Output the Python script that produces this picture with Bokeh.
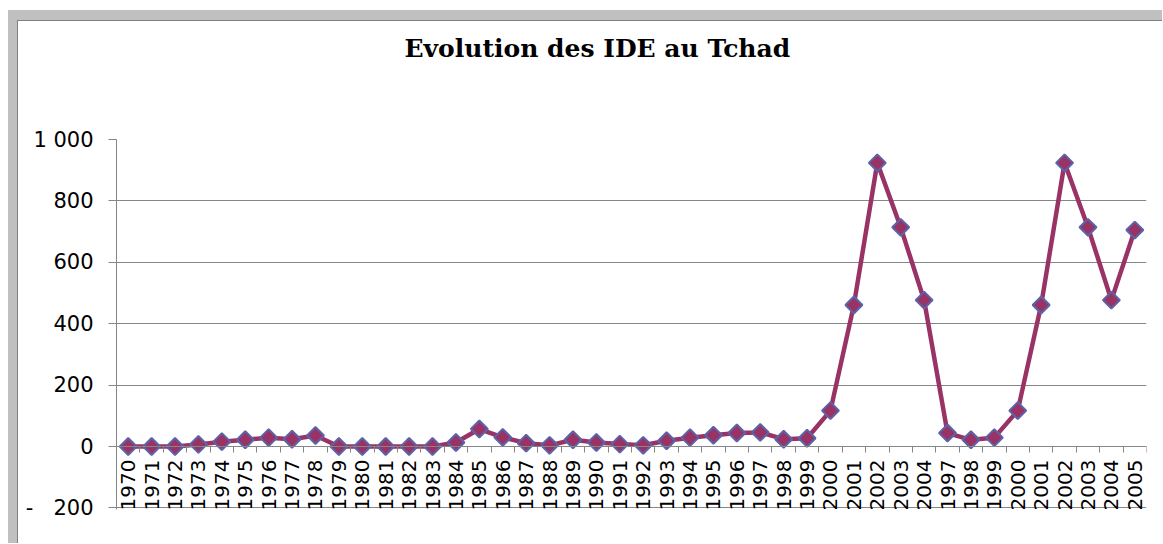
import math
from bokeh.plotting import figure
from bokeh.models import Range1d, FixedTicker, Title
from bokeh.embed import file_html
from bokeh.resources import INLINE

# ---- data ----
x_labels = ["1970", "1971", "1972", "1973", "1974", "1975", "1976", "1977", "1978", "1979",
            "1980", "1981", "1982", "1983", "1984", "1985", "1986", "1987", "1988", "1989",
            "1990", "1991", "1992", "1993", "1994", "1995", "1996", "1997", "1998", "1999",
            "2000", "2001", "2002", "2003", "2004",
            "1997", "1998", "1999", "2000", "2001", "2002", "2003", "2004", "2005"]
ide_values = [0, 0, 0, 7, 16, 22, 29, 24, 36, 0,
              0, 0, 0, 0, 13, 57, 30, 11, 4, 22,
              13, 8, 4, 19, 29, 37, 44, 46, 24, 27,
              117, 461, 924, 714, 477,
              44, 22, 29, 117, 461, 924, 714, 477, 705]
y_ticks = [-200, 0, 200, 400, 600, 800, 1000]
y_tick_labels = ["-\u00a0\u00a0\u00a0200", "0", "200", "400", "600", "800", "1 000"]
title_text = "Evolution des IDE au Tchad"

xs = list(range(len(x_labels)))

# canvas placed at page (18, 21) by the CSS frame below
W, H = 1145, 523
FL, FT, FR, FB = 98, 118, 1128, 488  # frame edges in canvas px

p = figure(width=W, height=H, output_backend="svg", toolbar_location=None,
           x_range=Range1d(-0.5, len(x_labels) - 0.5), y_range=Range1d(-205, 1000),
           min_border_left=FL, min_border_right=W - FR,
           min_border_top=FT, min_border_bottom=H - FB,
           styles={"margin-top": "20px", "margin-left": "17px",
                   "border-top": "1px solid #808080", "border-left": "1px solid #808080",
                   "box-shadow": "-9px -10px 0 0 #c0c0c0, 0 -10px 0 0 #c0c0c0, -9px 0 0 0 #c0c0c0"})
p.outline_line_color = None
p.background_fill_color = "white"
p.border_fill_color = "white"

# spacer (closest to the frame), then the title above it
p.add_layout(Title(text=" ", standoff=62, text_font_size="1px"), "above")
p.add_layout(Title(text=title_text, align="left", offset=288, vertical_align="top",
                   standoff=20, text_font="DejaVu Serif", text_font_style="bold",
                   text_font_size="25px", text_color="black"), "above")

# x axis at y = 0
xa = p.xaxis[0]
xa.fixed_location = 0
xa.ticker = FixedTicker(ticks=xs, minor_ticks=[i - 0.5 for i in range(len(x_labels) + 1)])
xa.major_label_overrides = {i: lab for i, lab in enumerate(x_labels)}
xa.major_label_orientation = math.pi / 2
xa.major_tick_out = 0
xa.major_tick_in = 0
xa.minor_tick_out = 6
xa.minor_tick_in = 0
xa.minor_tick_line_color = "#868686"
xa.axis_line_color = "#868686"
xa.major_label_standoff = 7
xa.major_label_text_font = "DejaVu Sans"
xa.major_label_text_font_size = "20px"
xa.major_label_text_color = "black"

ya = p.yaxis[0]
ya.ticker = FixedTicker(ticks=y_ticks)
ya.major_label_overrides = {t: l for t, l in zip(y_ticks, y_tick_labels)}
ya.major_tick_out = 8
ya.major_tick_in = 0
ya.minor_tick_out = 0
ya.minor_tick_in = 0
ya.major_tick_line_color = "#868686"
ya.axis_line_color = "#868686"
ya.major_label_standoff = 15
ya.major_label_text_font = "DejaVu Sans"
ya.major_label_text_font_size = "21px"
ya.major_label_text_color = "black"

p.xgrid.visible = False
p.ygrid.ticker = FixedTicker(ticks=y_ticks)
p.ygrid.grid_line_color = "#868686"
p.ygrid.grid_line_width = 1

# series
p.line(xs, ide_values, line_color="#993366", line_width=4.5)
p.scatter(xs, ide_values, marker="square", angle=math.pi / 4, size=12,
          fill_color="#993366", line_color="#5b64a8", line_width=2)

open("out.html", "w").write(file_html(p, INLINE))
